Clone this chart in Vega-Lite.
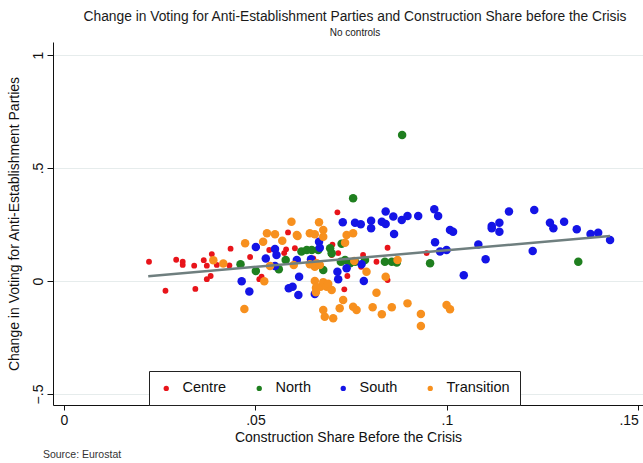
{
  "$schema": "https://vega.github.io/schema/vega-lite/v6.json",
  "width": 590,
  "height": 363,
  "autosize": {"type": "none"},
  "padding": {"left": 53, "top": 42, "right": 0, "bottom": 58},
  "background": "white",
  "title": {
    "text": "Change in Voting for Anti-Establishment Parties and Construction Share before the Crisis",
    "subtitle": "No controls",
    "font": "Liberation Sans",
    "subtitleFont": "Liberation Sans",
    "fontSize": 13.8,
    "subtitleFontSize": 10,
    "fontWeight": "normal",
    "color": "#1a1a1a",
    "subtitleColor": "#1a1a1a",
    "anchor": "middle",
    "offset": 4,
    "subtitlePadding": 4,
    "dx": 7
  },
  "config": {
    "view": {"stroke": null},
    "font": "Liberation Sans",
    "axis": {
      "labelFont": "Liberation Sans",
      "titleFont": "Liberation Sans",
      "labelFontSize": 14,
      "titleFontSize": 14,
      "titleFontWeight": "normal",
      "labelColor": "#111111",
      "titleColor": "#111111",
      "domainColor": "#111111",
      "tickColor": "#111111",
      "tickSize": 5,
      "gridColor": "#e6ecec",
      "gridWidth": 1
    },
    "legend": {
      "labelFont": "Liberation Sans",
      "labelFontSize": 14.5,
      "labelColor": "#111111"
    }
  },
  "datasets": {
    "points": [
      {"group": "Centre", "share": 0.0222, "change": 0.085},
      {"group": "Centre", "share": 0.0293, "change": 0.094},
      {"group": "Centre", "share": 0.031, "change": 0.085},
      {"group": "Centre", "share": 0.031, "change": 0.071},
      {"group": "Centre", "share": 0.034, "change": 0.068},
      {"group": "Centre", "share": 0.0265, "change": -0.043},
      {"group": "Centre", "share": 0.0343, "change": -0.035},
      {"group": "Centre", "share": 0.0365, "change": 0.092},
      {"group": "Centre", "share": 0.0386, "change": 0.119},
      {"group": "Centre", "share": 0.0373, "change": 0.068},
      {"group": "Centre", "share": 0.0399, "change": 0.071},
      {"group": "Centre", "share": 0.0435, "change": 0.143},
      {"group": "Centre", "share": 0.0486, "change": 0.106},
      {"group": "Centre", "share": 0.0373, "change": 0.008},
      {"group": "Centre", "share": 0.0383, "change": 0.022},
      {"group": "Centre", "share": 0.0432, "change": 0.069},
      {"group": "Centre", "share": 0.051, "change": 0.008},
      {"group": "Centre", "share": 0.0516, "change": 0.019},
      {"group": "Centre", "share": 0.0536, "change": 0.137},
      {"group": "Centre", "share": 0.0585, "change": 0.215},
      {"group": "Centre", "share": 0.0603, "change": 0.145},
      {"group": "Centre", "share": 0.058, "change": 0.14},
      {"group": "Centre", "share": 0.0575, "change": 0.123},
      {"group": "Centre", "share": 0.0651, "change": 0.1},
      {"group": "Centre", "share": 0.0699, "change": 0.115},
      {"group": "Centre", "share": 0.0714, "change": 0.304},
      {"group": "Centre", "share": 0.0701, "change": 0.161},
      {"group": "Centre", "share": 0.0716, "change": 0.123},
      {"group": "Centre", "share": 0.0781, "change": 0.115},
      {"group": "Centre", "share": 0.0816, "change": 0.085},
      {"group": "Centre", "share": 0.0845, "change": 0.147},
      {"group": "Centre", "share": 0.0732, "change": -0.037},
      {"group": "Centre", "share": 0.074, "change": 0.022},
      {"group": "Centre", "share": 0.0776, "change": 0.063},
      {"group": "Centre", "share": 0.0845, "change": 0.004},
      {"group": "Centre", "share": 0.0947, "change": 0.123},
      {"group": "North", "share": 0.0461, "change": 0.074},
      {"group": "North", "share": 0.0501, "change": 0.044},
      {"group": "North", "share": 0.0561, "change": 0.052},
      {"group": "North", "share": 0.0579, "change": 0.093},
      {"group": "North", "share": 0.062, "change": 0.13},
      {"group": "North", "share": 0.0634, "change": 0.137},
      {"group": "North", "share": 0.0647, "change": 0.137},
      {"group": "North", "share": 0.0664, "change": 0.137},
      {"group": "North", "share": 0.0695, "change": 0.145},
      {"group": "North", "share": 0.0699, "change": 0.123},
      {"group": "North", "share": 0.0723, "change": 0.085},
      {"group": "North", "share": 0.0734, "change": 0.093},
      {"group": "North", "share": 0.0747, "change": 0.078},
      {"group": "North", "share": 0.076, "change": 0.085},
      {"group": "North", "share": 0.0786, "change": 0.093},
      {"group": "North", "share": 0.0838, "change": 0.085},
      {"group": "North", "share": 0.0856, "change": 0.085},
      {"group": "North", "share": 0.0869, "change": 0.082},
      {"group": "North", "share": 0.0677, "change": 0.049},
      {"group": "North", "share": 0.0755, "change": 0.366},
      {"group": "North", "share": 0.0883, "change": 0.646},
      {"group": "North", "share": 0.0956, "change": 0.078},
      {"group": "North", "share": 0.1343, "change": 0.085},
      {"group": "North", "share": 0.0725, "change": 0.165},
      {"group": "South", "share": 0.0501, "change": 0.15},
      {"group": "South", "share": 0.0464, "change": -0.001},
      {"group": "South", "share": 0.0484, "change": -0.046},
      {"group": "South", "share": 0.0527, "change": 0.1},
      {"group": "South", "share": 0.0551, "change": 0.142},
      {"group": "South", "share": 0.0555, "change": 0.115},
      {"group": "South", "share": 0.0551, "change": 0.066},
      {"group": "South", "share": 0.0587, "change": -0.032},
      {"group": "South", "share": 0.0597, "change": -0.025},
      {"group": "South", "share": 0.0608, "change": 0.093},
      {"group": "South", "share": 0.0614, "change": 0.019},
      {"group": "South", "share": 0.0612, "change": -0.062},
      {"group": "South", "share": 0.0728, "change": 0.26},
      {"group": "South", "share": 0.076, "change": 0.258},
      {"group": "South", "share": 0.0775, "change": 0.251},
      {"group": "South", "share": 0.0802, "change": 0.267},
      {"group": "South", "share": 0.0802, "change": 0.233},
      {"group": "South", "share": 0.083, "change": 0.262},
      {"group": "South", "share": 0.084, "change": 0.252},
      {"group": "South", "share": 0.084, "change": 0.307},
      {"group": "South", "share": 0.086, "change": 0.285},
      {"group": "South", "share": 0.0862, "change": 0.208},
      {"group": "South", "share": 0.0666, "change": 0.174},
      {"group": "South", "share": 0.0668, "change": 0.147},
      {"group": "South", "share": 0.0645, "change": 0.096},
      {"group": "South", "share": 0.0655, "change": -0.058},
      {"group": "South", "share": 0.0714, "change": 0.041},
      {"group": "South", "share": 0.0716, "change": 0.008},
      {"group": "South", "share": 0.0738, "change": 0.056},
      {"group": "South", "share": 0.0783, "change": 0.0},
      {"group": "South", "share": 0.0777, "change": 0.074},
      {"group": "South", "share": 0.0882, "change": 0.27},
      {"group": "South", "share": 0.0897, "change": 0.288},
      {"group": "South", "share": 0.0925, "change": 0.288},
      {"group": "South", "share": 0.0967, "change": 0.317},
      {"group": "South", "share": 0.0977, "change": 0.288},
      {"group": "South", "share": 0.1008, "change": 0.226},
      {"group": "South", "share": 0.1016, "change": 0.218},
      {"group": "South", "share": 0.0969, "change": 0.171},
      {"group": "South", "share": 0.0982, "change": 0.13},
      {"group": "South", "share": 0.0999, "change": 0.137},
      {"group": "South", "share": 0.1082, "change": 0.162},
      {"group": "South", "share": 0.1101, "change": 0.096},
      {"group": "South", "share": 0.1044, "change": 0.025},
      {"group": "South", "share": 0.1117, "change": 0.243},
      {"group": "South", "share": 0.1117, "change": 0.233},
      {"group": "South", "share": 0.1137, "change": 0.258},
      {"group": "South", "share": 0.1137, "change": 0.218},
      {"group": "South", "share": 0.1162, "change": 0.307},
      {"group": "South", "share": 0.1228, "change": 0.314},
      {"group": "South", "share": 0.1224, "change": 0.133},
      {"group": "South", "share": 0.1269, "change": 0.258},
      {"group": "South", "share": 0.1278, "change": 0.233},
      {"group": "South", "share": 0.1306, "change": 0.262},
      {"group": "South", "share": 0.1339, "change": 0.229},
      {"group": "South", "share": 0.1375, "change": 0.208},
      {"group": "South", "share": 0.1395, "change": 0.214},
      {"group": "South", "share": 0.1426, "change": 0.181},
      {"group": "Transition", "share": 0.039, "change": 0.092},
      {"group": "Transition", "share": 0.0416, "change": 0.077},
      {"group": "Transition", "share": 0.0473, "change": 0.167},
      {"group": "Transition", "share": 0.0471, "change": -0.124},
      {"group": "Transition", "share": 0.0523, "change": -0.001},
      {"group": "Transition", "share": 0.053, "change": 0.211},
      {"group": "Transition", "share": 0.0551, "change": 0.207},
      {"group": "Transition", "share": 0.052, "change": 0.174},
      {"group": "Transition", "share": 0.057, "change": 0.178},
      {"group": "Transition", "share": 0.0594, "change": 0.262},
      {"group": "Transition", "share": 0.06, "change": 0.071},
      {"group": "Transition", "share": 0.0538, "change": 0.066},
      {"group": "Transition", "share": 0.0666, "change": 0.26},
      {"group": "Transition", "share": 0.0608, "change": 0.204},
      {"group": "Transition", "share": 0.0642, "change": 0.211},
      {"group": "Transition", "share": 0.0655, "change": 0.207},
      {"group": "Transition", "share": 0.0677, "change": 0.226},
      {"group": "Transition", "share": 0.0677, "change": 0.196},
      {"group": "Transition", "share": 0.0738, "change": 0.204},
      {"group": "Transition", "share": 0.0755, "change": 0.211},
      {"group": "Transition", "share": 0.0734, "change": 0.169},
      {"group": "Transition", "share": 0.079, "change": 0.041},
      {"group": "Transition", "share": 0.084, "change": 0.019},
      {"group": "Transition", "share": 0.0655, "change": 0.0},
      {"group": "Transition", "share": 0.0658, "change": -0.03},
      {"group": "Transition", "share": 0.067, "change": -0.025},
      {"group": "Transition", "share": 0.0677, "change": -0.005},
      {"group": "Transition", "share": 0.0686, "change": -0.025},
      {"group": "Transition", "share": 0.0699, "change": -0.04},
      {"group": "Transition", "share": 0.0658, "change": -0.05},
      {"group": "Transition", "share": 0.069, "change": -0.012},
      {"group": "Transition", "share": 0.0729, "change": -0.084},
      {"group": "Transition", "share": 0.0816, "change": -0.052},
      {"group": "Transition", "share": 0.0677, "change": -0.128},
      {"group": "Transition", "share": 0.0681, "change": -0.158},
      {"group": "Transition", "share": 0.0703, "change": -0.165},
      {"group": "Transition", "share": 0.072, "change": -0.121},
      {"group": "Transition", "share": 0.0755, "change": -0.114},
      {"group": "Transition", "share": 0.0764, "change": -0.128},
      {"group": "Transition", "share": 0.0806, "change": -0.116},
      {"group": "Transition", "share": 0.083, "change": -0.147},
      {"group": "Transition", "share": 0.0856, "change": -0.116},
      {"group": "Transition", "share": 0.0642, "change": 0.074},
      {"group": "Transition", "share": 0.066, "change": 0.078},
      {"group": "Transition", "share": 0.061, "change": 0.199},
      {"group": "Transition", "share": 0.0758, "change": 0.088},
      {"group": "Transition", "share": 0.0871, "change": 0.093},
      {"group": "Transition", "share": 0.0897, "change": -0.099},
      {"group": "Transition", "share": 0.0932, "change": -0.146},
      {"group": "Transition", "share": 0.0932, "change": -0.199},
      {"group": "Transition", "share": 0.0999, "change": -0.106},
      {"group": "Transition", "share": 0.1008, "change": -0.125},
      {"group": "Transition", "share": 0.0655, "change": 0.063},
      {"group": "Transition", "share": 0.0668, "change": 0.071}
    ],
    "fit": [
      {"share": 0.022, "change": 0.021},
      {"share": 0.1426, "change": 0.199}
    ],
    "note": [
      {"note": "Source: Eurostat"}
    ]
  },
  "layer": [
    {
      "data": {"name": "points"},
      "mark": {"type": "circle", "opacity": 1, "strokeWidth": 0},
      "encoding": {
        "x": {
          "field": "share",
          "type": "quantitative",
          "scale": {"domain": [-0.00287, 0.1512], "nice": false, "zero": false},
          "axis": {
            "title": "Construction Share Before the Crisis",
            "values": [0, 0.05, 0.1, 0.15],
            "labelExpr": "replace(format(datum.value, ''), '0.', '.')",
            "grid": false,
            "labelPadding": 3,
            "titlePadding": 3,
            "labelFlush": 6
          }
        },
        "y": {
          "field": "change",
          "type": "quantitative",
          "scale": {"domain": [-0.5487, 1.0575], "nice": false, "zero": false},
          "axis": {
            "title": "Change in Voting for Anti-Establishment Parties",
            "values": [-0.5, 0, 0.5, 1],
            "labelExpr": "replace(format(datum.value, ''), '0.', '.')",
            "labelAngle": -90,
            "labelAlign": "center",
            "labelBaseline": "bottom",
            "labelPadding": 2,
            "titlePadding": 10,
            "grid": true,
            "tickSize": 6
          }
        },
        "color": {
          "field": "group",
          "type": "nominal",
          "scale": {
            "domain": ["Centre", "North", "South", "Transition"],
            "range": ["#e8141a", "#1f7f1f", "#1414e6", "#f7901e"]
          },
          "legend": {
            "title": null,
            "orient": "none",
            "legendX": 96,
            "legendY": 329,
            "direction": "horizontal",
            "symbolType": "circle",
            "symbolSize": 28,
            "symbolStrokeWidth": 0,
            "labelOffset": 9,
            "columnPadding": 25,
            "padding": 10,
            "strokeColor": "#222222",
            "fillColor": "white"
          }
        },
        "size": {
          "condition": {"test": "datum.group === 'Centre'", "value": 34},
          "value": 72
        }
      }
    },
    {
      "data": {"name": "fit"},
      "mark": {"type": "line", "color": "#6f7f7f", "strokeWidth": 2.5},
      "encoding": {
        "x": {"field": "share", "type": "quantitative"},
        "y": {"field": "change", "type": "quantitative"}
      }
    },
    {
      "data": {"name": "note"},
      "mark": {"type": "text", "align": "left", "baseline": "middle", "fontSize": 10.5, "color": "#333333", "font": "Liberation Sans"},
      "encoding": {
        "text": {"field": "note"},
        "x": {"datum": -0.0055},
        "y": {"datum": -0.77}
      }
    }
  ]
}
